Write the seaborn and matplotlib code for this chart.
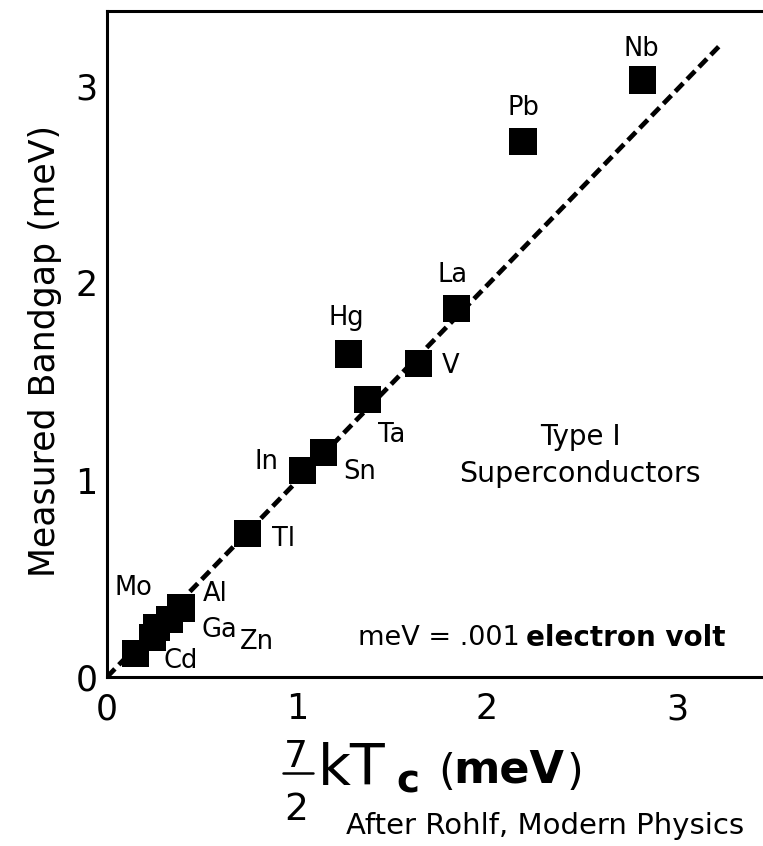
import matplotlib
matplotlib.use("Agg")
import matplotlib.pyplot as plt
from matplotlib.lines import Line2D
import seaborn as sns
import pandas as pd

# ---- data ----
elements = ["Nb", "Pb", "La", "Hg", "V", "Ta", "Sn", "In", "Tl", "Al", "Ga", "Mo", "Zn", "Cd"]
kTc = [2.82, 2.19, 1.84, 1.27, 1.64, 1.37, 1.14, 1.03, 0.74, 0.39, 0.33, 0.26, 0.24, 0.15]
gap = [3.03, 2.72, 1.87, 1.64, 1.59, 1.41, 1.14, 1.05, 0.73, 0.35, 0.29, 0.25, 0.20, 0.12]
label_x = [2.81, 2.19, 1.82, 1.26, 1.81, 1.50, 1.33, 0.84, 0.93, 0.57, 0.59, 0.14, 0.79, 0.39]
label_y = [3.19, 2.89, 2.04, 1.82, 1.58, 1.23, 1.04, 1.09, 0.70, 0.42, 0.24, 0.45, 0.18, 0.08]
fit_x = [0.0, 3.24]
fit_y = [0.0, 3.22]
x_ticks = [0, 1, 2, 3]
y_ticks = [0, 1, 2, 3]

df = pd.DataFrame({"kTc": kTc, "gap": gap, "element": elements})
fit = pd.DataFrame({"x": fit_x, "y": fit_y})

sns.set_style("white")
plt.rcParams["font.family"] = ["DejaVu Sans"]
plt.rcParams["text.color"] = "black"
plt.rcParams["axes.labelcolor"] = "black"
plt.rcParams["xtick.color"] = "black"
plt.rcParams["ytick.color"] = "black"

W, H = 763, 846
fig = plt.figure(figsize=(W / 100, H / 100), dpi=100)
ax = fig.add_axes([107 / W, (H - 677) / H, (W - 107) / W, (677 - 11) / H])

sns.lineplot(data=fit, x="x", y="y", ax=ax, color="black", lw=3.4,
             dashes=False, zorder=3)
ax.lines[-1].set_dashes((2.4, 1.2))
sns.scatterplot(data=df, x="kTc", y="gap", ax=ax, marker="s", s=385,
                color="black", edgecolor="none", linewidth=0, zorder=2, legend=False)

for name, lx, ly in zip(elements, label_x, label_y):
    ax.text(lx, ly, name, ha="center", va="center", fontsize=18.5, color="black")

ax.text(2.49, 1.22, "Type I", ha="center", va="center", fontsize=20)
ax.text(2.49, 1.03, "Superconductors", ha="center", va="center", fontsize=20.5)
ax.text(2.17, 0.20, "meV = .001", ha="right", va="center", fontsize=19.5)
ax.text(2.205, 0.20, "electron volt", ha="left", va="center", fontsize=20,
        fontweight="bold")

ax.set_xlim(0, (W - 107) / 190)
ax.set_ylim(0, (677 - 11) / 197)
ax.set_xticks(x_ticks)
ax.set_yticks(y_ticks)
ax.set_xticklabels([str(t) for t in x_ticks])
ax.set_yticklabels([str(t) for t in y_ticks])
ax.tick_params(axis="x", direction="in", length=11, width=1.6, pad=11,
               labelsize=25, color="black", labelcolor="black")
ax.tick_params(axis="y", direction="in", length=8.5, width=1.6, pad=7,
               labelsize=25, color="black", labelcolor="black")
ax.set_xlabel("")
ax.set_ylabel("")
for side in ["left", "top", "bottom"]:
    ax.spines[side].set_visible(True)
    ax.spines[side].set_linewidth(2.2)
    ax.spines[side].set_color("black")
ax.spines["right"].set_visible(False)


def P(x, y):
    return x / W, 1 - y / H


fig.text(*P(45, 351), "Measured Bandgap (meV)", rotation=90, ha="center",
         va="center", fontsize=25)

# x label: 7/2 k T_c (meV)
fig.text(*P(296, 767), "7", ha="center", va="baseline", fontsize=27)
fig.add_artist(Line2D([283 / W, 313 / W], [1 - 773 / H, 1 - 773 / H],
                      color="black", lw=1.8, transform=fig.transFigure))
fig.text(*P(296, 820), "2", ha="center", va="baseline", fontsize=27)
fig.text(*P(318, 785), "kT", ha="left", va="baseline", fontsize=41)
fig.text(*P(396, 792), "c", ha="left", va="baseline", fontsize=28,
         fontweight="bold")
fig.text(*P(438, 785), "(", ha="left", va="baseline", fontsize=31)
fig.text(*P(453, 782), "meV", ha="left", va="baseline", fontsize=32,
         fontweight="bold")
fig.text(*P(567, 785), ")", ha="left", va="baseline", fontsize=31)
fig.text(*P(346, 834), "After Rohlf, Modern Physics", ha="left",
         va="baseline", fontsize=21)

fig.savefig("out.png", dpi=100, facecolor="white")
